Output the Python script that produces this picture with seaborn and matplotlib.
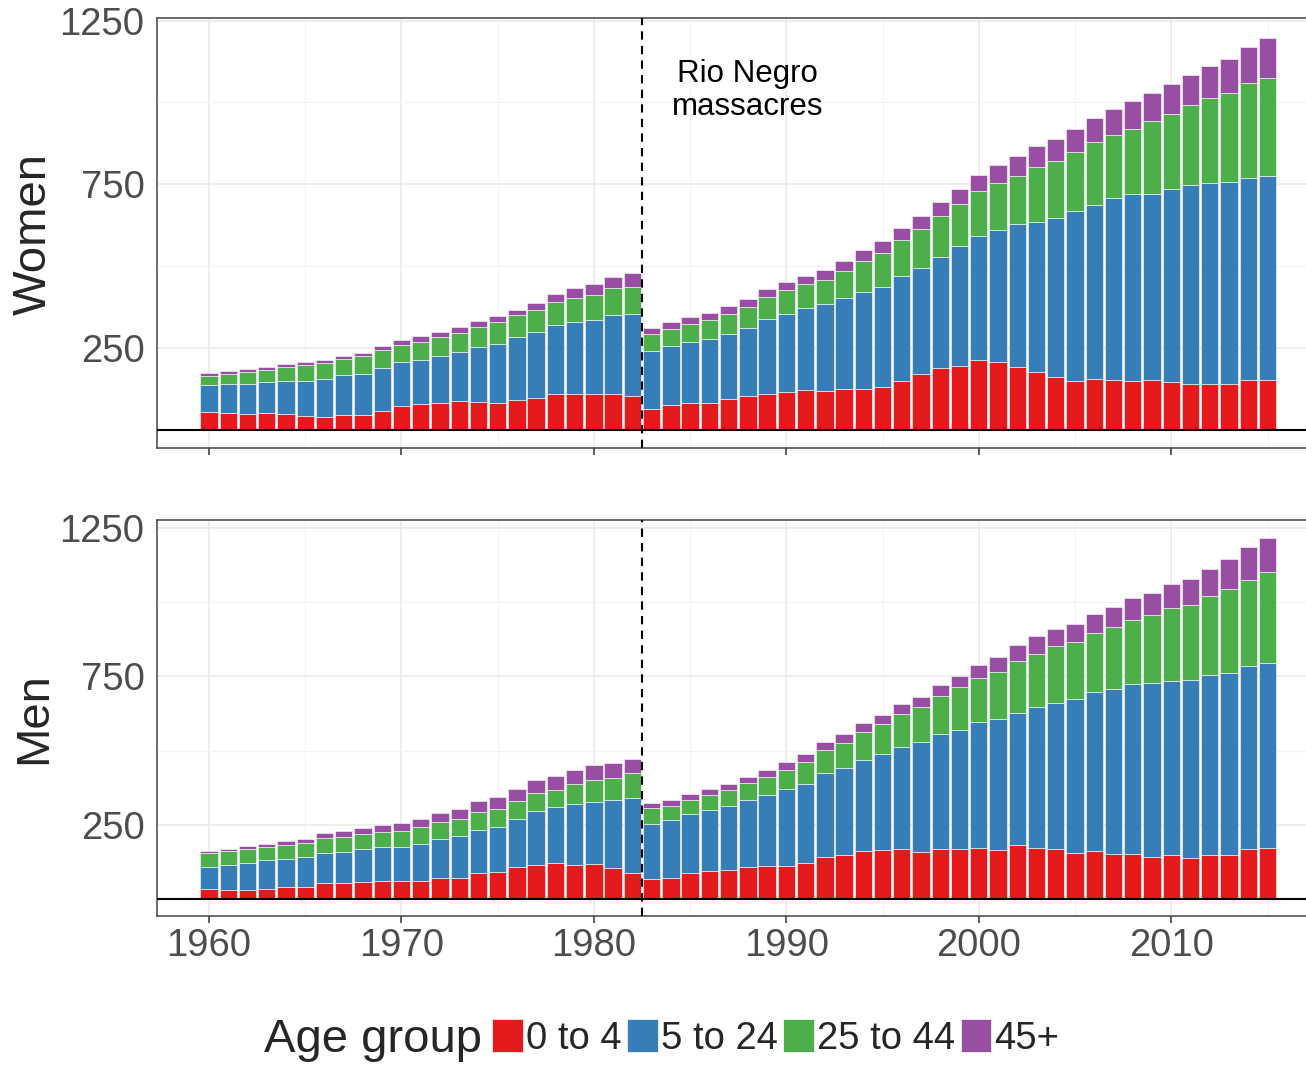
import matplotlib.pyplot as plt
import matplotlib.patches as mpatches
import pandas as pd
import seaborn as sns

sns.set_style("white")
plt.rcParams['font.family'] = ['Liberation Sans', 'DejaVu Sans']

years = list(range(1960, 2016))
age_groups = ["0 to 4", "5 to 24", "25 to 44", "45+"]
colors = ["#E41A1C", "#377EB8", "#4DAF4A", "#984EA3"]

# women, counts per age group
w_0_4 = [53, 50, 47, 50, 47, 42, 39, 45, 45, 57, 72, 77, 81, 87, 85, 81, 91, 96, 108, 109, 108, 108, 102,
         62, 75, 81, 80, 93, 102, 110, 115, 122, 118, 124, 125, 129, 149, 169, 187, 194, 213, 206, 190, 177,
         160, 149, 155, 153, 148, 152, 147, 141, 141, 141, 153, 153]
w_5_24 = [83, 91, 92, 95, 101, 108, 115, 121, 126, 131, 134, 137, 143, 149, 167, 181, 191, 201, 211, 220, 228, 242, 252,
          177, 180, 186, 196, 200, 209, 227, 239, 249, 265, 277, 295, 306, 320, 326, 342, 366, 378, 405, 437, 457,
          486, 520, 533, 554, 571, 569, 588, 607, 614, 617, 617, 621]
w_25_44 = [29, 29, 38, 38, 43, 47, 50, 49, 53, 55, 53, 55, 59, 60, 61, 67, 68, 68, 70, 73, 77, 82, 81,
           53, 52, 56, 59, 62, 65, 68, 72, 73, 75, 85, 95, 104, 111, 118, 124, 129, 137, 144, 149, 168,
           174, 180, 190, 194, 201, 222, 231, 244, 259, 271, 288, 300]
w_45 = [7, 8, 8, 10, 10, 9, 9, 9, 11, 12, 15, 16, 17, 17, 19, 17, 17, 23, 27, 30, 32, 35, 44,
        20, 23, 21, 22, 23, 24, 25, 24, 27, 30, 30, 35, 37, 37, 39, 43, 47, 50, 55, 60, 64,
        69, 70, 74, 79, 84, 85, 90, 92, 96, 103, 112, 122]

# men
m_0_4 = [34, 32, 29, 34, 41, 41, 54, 54, 59, 62, 62, 60, 70, 70, 87, 92, 107, 116, 122, 116, 118, 104, 89,
         67, 72, 87, 93, 98, 107, 112, 111, 121, 143, 147, 161, 166, 170, 157, 167, 167, 173, 164, 181, 171,
         168, 155, 163, 153, 153, 142, 149, 138, 147, 149, 170, 173]
m_5_24 = [75, 84, 94, 96, 93, 100, 102, 106, 111, 114, 112, 126, 132, 141, 144, 151, 163, 181, 187, 205, 210, 229, 250,
          187, 195, 198, 208, 216, 227, 239, 260, 267, 280, 294, 308, 324, 342, 371, 387, 402, 422, 441, 447, 474,
          491, 518, 534, 555, 570, 585, 584, 598, 606, 613, 613, 622]
m_25_44 = [46, 46, 47, 46, 49, 48, 48, 49, 50, 49, 56, 58, 59, 59, 63, 60, 60, 60, 58, 68, 72, 75, 84,
           52, 47, 49, 49, 54, 58, 60, 64, 73, 78, 85, 93, 100, 112, 120, 129, 144, 149, 161, 172, 181,
           192, 191, 200, 207, 217, 229, 248, 254, 267, 281, 291, 307]
m_45 = [8, 8, 8, 11, 13, 13, 17, 20, 20, 26, 27, 27, 29, 34, 36, 40, 39, 44, 48, 47, 51, 49, 50,
        17, 20, 18, 20, 20, 20, 25, 25, 28, 28, 30, 31, 31, 32, 32, 36, 38, 44, 50, 56, 58,
        58, 62, 63, 69, 74, 74, 78, 87, 91, 101, 111, 114]

massacre_year = 1982.5
grey_txt = "#4d4d4d"


def long_df(parts):
    rows = []
    for group, vals in zip(age_groups, parts):
        for y, v in zip(years, vals):
            rows.append({"year": y, "age": group, "count": v})
    return pd.DataFrame(rows)


def panel(ax, df, ylim, show_xlabels):
    sns.histplot(data=df, x="year", weights="count", hue="age",
                 hue_order=age_groups[::-1], palette=dict(zip(age_groups, colors)),
                 multiple="stack", discrete=True, shrink=0.9, alpha=1,
                 edgecolor="white", linewidth=0.4, legend=False, ax=ax)
    ax.axhline(0, color="black", lw=1.5, zorder=3)
    ax.axvline(massacre_year, color="black", lw=1.5, ls=(0, (4, 3)), zorder=3)

    ax.set_xlim(1957.3, 2017.0)
    ax.set_ylim(*ylim)
    ax.set_xticks([1960, 1970, 1980, 1990, 2000, 2010])
    ax.set_xticks([1965, 1975, 1985, 1995, 2005, 2015], minor=True)
    ax.set_yticks([250, 750, 1250])
    ax.set_yticks([0, 500, 1000], minor=True)
    ax.grid(which="major", color="#ebebeb", lw=1.2)
    ax.grid(which="minor", color="#f3f3f3", lw=0.8)
    ax.set_axisbelow(True)

    ax.tick_params(which="major", length=5, width=1.1, color="#333333",
                   labelsize=27.5, labelcolor=grey_txt, pad=4)
    ax.tick_params(which="minor", length=0)
    ax.tick_params(axis="x", bottom=True, labelbottom=show_xlabels)
    ax.set_xlabel("")
    ax.set_ylabel("")
    for side in ["left", "top", "bottom"]:
        ax.spines[side].set_color("#444444")
        ax.spines[side].set_linewidth(1.1)
    ax.spines["right"].set_visible(False)


fig = plt.figure(figsize=(13.06, 10.65), dpi=100)
ax1 = fig.add_axes([157 / 1306, 1 - 448 / 1065, 1 - 157 / 1306, 430 / 1065])
ax2 = fig.add_axes([157 / 1306, 1 - 916 / 1065, 1 - 157 / 1306, 396 / 1065])

panel(ax1, long_df([w_0_4, w_5_24, w_25_44, w_45]), (-56, 1258), False)
panel(ax2, long_df([m_0_4, m_5_24, m_25_44, m_45]), (-57, 1276), True)

ax1.text(1988.0, 1036, "Rio Negro\nmassacres", ha="center", va="center",
         fontsize=22.5, linespacing=1.1, color="black")

fig.text(34 / 1306, 1 - 234 / 1065, "Women", rotation=90, ha="center", va="center", fontsize=34)
fig.text(34 / 1306, 1 - 718 / 1065, "Men", rotation=90, ha="center", va="center", fontsize=34)

fig.text(482 / 1306, 1 - 1040 / 1065, "Age group", ha="right", va="center", fontsize=34)
handles = [mpatches.Patch(facecolor=c, edgecolor="white", lw=0.5) for c in colors]
fig.legend(handles, age_groups, ncol=4, loc="center left",
           bbox_to_anchor=(492 / 1306, 1 - 1038 / 1065), frameon=False, fontsize=27.5,
           handlelength=0.8, handleheight=0.95, handletextpad=0.08, columnspacing=0.15,
           borderpad=0, borderaxespad=0)

plt.savefig("out.png", dpi=100)
